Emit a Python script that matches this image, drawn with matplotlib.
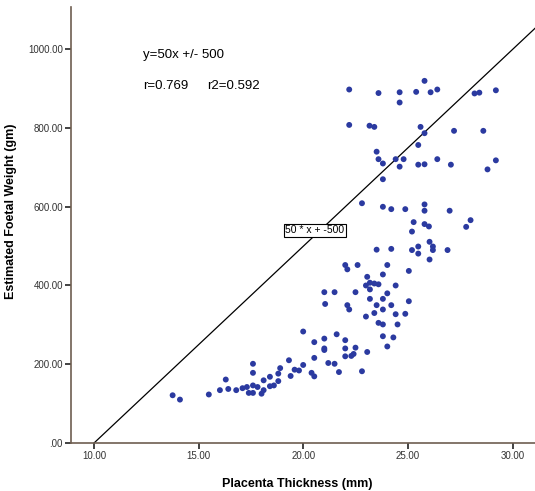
import matplotlib
matplotlib.use('Agg')
import matplotlib.pyplot as plt
import numpy as np

# placenta thickness (mm) and estimated foetal weight (gm)
thickness = [22.19, 23.59, 24.60, 24.60, 25.39, 25.79, 26.08, 26.40, 28.18, 28.41, 29.20,
             22.19, 23.16, 23.39, 25.60, 25.79, 27.20, 28.60,
             25.49, 23.50, 23.59, 23.80, 24.41, 24.79, 24.60, 25.49, 25.79, 26.40, 27.05, 29.20, 28.80, 23.80,
             22.80, 23.80, 24.20, 24.87, 25.79, 25.79, 26.99, 25.27, 25.79, 26.00, 27.99, 27.78, 25.19,
             23.50, 24.20, 25.19, 25.49, 25.49, 26.03, 26.19, 26.19, 26.03, 26.89,
             22.00, 22.10, 22.59, 24.01, 25.04, 23.80, 23.05, 23.18, 23.39, 23.59, 22.99, 24.41, 23.18,
             21.00, 21.49, 22.49, 24.01, 23.18, 23.80, 25.04, 21.04, 22.10, 22.19, 23.50, 24.20,
             23.39, 23.80, 24.41, 24.87, 22.99, 23.59, 23.80, 24.50,
             19.99, 21.59, 23.80, 24.30, 20.52, 21.00, 22.00, 21.00, 21.00, 22.00, 22.49, 24.01,
             23.05, 22.40, 22.29, 22.00, 20.52,
             19.31, 17.59, 19.99, 21.19, 21.49, 21.70, 22.80, 19.58, 19.79, 18.89, 18.80, 20.39,
             20.52, 19.39, 17.59, 18.40, 16.29, 18.10, 18.80, 18.59, 18.40, 17.59, 17.81, 17.30,
             17.09, 16.79, 16.41, 16.01, 17.39, 17.59, 18.00, 18.10, 15.48, 13.75, 14.10]
weight = [898, 889, 891, 865, 892, 920, 891, 898, 888, 890, 896,
          808, 806, 803, 803, 787, 793, 793,
          757, 740, 721, 710, 721, 721, 702, 707, 708, 721, 707, 718, 695, 670,
          609, 600, 594, 594, 606, 590, 590, 561, 556, 550, 566, 549, 537,
          491, 493, 490, 499, 481, 511, 499, 490, 466, 490,
          452, 441, 452, 452, 437, 428, 422, 407, 405, 403, 400, 400, 390,
          383, 383, 383, 380, 366, 366, 360, 353, 350, 339, 350, 350,
          330, 339, 327, 328, 321, 305, 301, 301,
          283, 276, 271, 268, 256, 265, 261, 240, 236, 240, 242, 245,
          231, 226, 221, 220, 216,
          210, 201, 198, 203, 201, 180, 182, 186, 184, 190, 176, 178,
          169, 170, 178, 168, 161, 159, 157, 146, 144, 146, 142, 142,
          139, 134, 137, 134, 127, 127, 125, 134, 123, 121, 110]

x_ticks = [10, 15, 20, 25, 30]
y_ticks = [0, 200, 400, 600, 800, 1000]
slope, intercept = 50, -500

narrow = ['Liberation Sans Narrow', 'Liberation Sans', 'DejaVu Sans']
axis_col = '#6e5e50'

fig = plt.figure(figsize=(5.35, 4.91), dpi=100)
ax = fig.add_axes([0.133, 0.098, 0.867, 0.888])

ax.scatter(thickness, weight, s=18, color='#2b3aa0', edgecolors='none', zorder=3)

xmin, xmax = 8.90, 31.07
ymin, ymax = 0, 1108
lx = np.array([10, xmax])
ax.plot(lx, slope * lx + intercept, color='black', lw=0.9, zorder=2)

ax.set_xlim(xmin, xmax)
ax.set_ylim(ymin, ymax)
ax.set_xticks(x_ticks)
ax.set_yticks(y_ticks)
ax.set_xticklabels(['%.2f' % v for v in x_ticks], family=narrow, fontsize=7, color='#333333')
ax.set_yticklabels(['.00' if v == 0 else '%.2f' % v for v in y_ticks], family=narrow,
                   fontsize=7, color='#333333')
ax.tick_params(direction='out', length=4, width=1.2, color='#222222', pad=2)

for side in ['top', 'right']:
    ax.spines[side].set_visible(False)
for side in ['left', 'bottom']:
    ax.spines[side].set_color(axis_col)
    ax.spines[side].set_linewidth(1.2)

ax.set_xlabel('Placenta Thickness (mm)', family=narrow, fontsize=9, fontweight='bold')
ax.set_ylabel('Estimated Foetal Weight (gm)', family=narrow, fontsize=9, fontweight='bold')
ax.xaxis.set_label_coords(0.487, -0.08)
ax.yaxis.set_label_coords(-0.116, 0.532)

ax.text(12.34, 986, 'y=50x +/- 500', family=narrow, fontsize=9.5, va='center')
ax.text(12.34, 907, 'r=0.769', family=narrow, fontsize=9.5, va='center')
ax.text(15.40, 907, 'r2=0.592', family=narrow, fontsize=9.5, va='center')

ax.text(20.55, 540, '50 * x + -500', family=narrow, fontsize=7.5, ha='center', va='center',
        bbox=dict(boxstyle='square,pad=0.15', fc='white', ec='black', lw=0.8), zorder=4)

fig.savefig('out.png', dpi=100)
